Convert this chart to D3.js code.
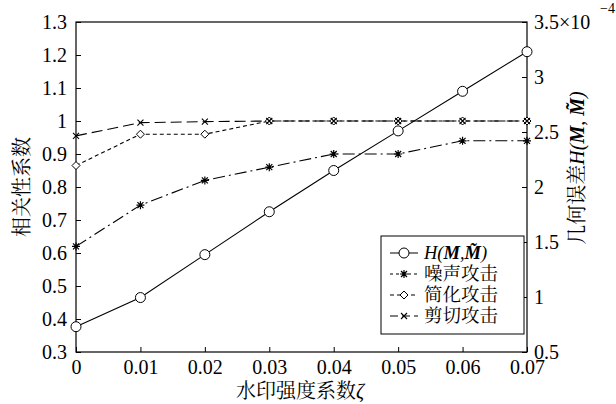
<!DOCTYPE html>
<html><head><meta charset="utf-8">
<script src="https://cdn.jsdelivr.net/npm/d3@7"></script>
<style>body{margin:0;background:#fff}svg{display:block}</style>
</head><body>
<svg id="c" width="616" height="404"></svg>
<script>
const xVals = [0, 0.01, 0.02, 0.03, 0.04, 0.05, 0.06, 0.07];
const xTicks = [0, 0.01, 0.02, 0.03, 0.04, 0.05, 0.06, 0.07];
const hausdorff = [0.73, 0.995, 1.385, 1.775, 2.15, 2.51, 2.87, 3.23]; // x1e-4, right axis
const noiseCorr = [0.62, 0.745, 0.82, 0.86, 0.90, 0.90, 0.94, 0.94];
const simplifyCorr = [0.865, 0.96, 0.96, 1.0, 1.0, 1.0, 1.0, 1.0];
const cropCorr = [0.955, 0.995, 0.998, 1.0, 1.0, 1.0, 1.0, 1.0];
const leftTicks = [0.3,0.4,0.5,0.6,0.7,0.8,0.9,1,1.1,1.2,1.3];
const rightTicks = [0.5,1,1.5,2,2.5,3,3.5];

const FONT = '"Liberation Serif", "Noto Serif CJK SC"';
const svg = d3.select("#c");
const L=76, R=527, T=22, B=352;
const x = d3.scaleLinear().domain([0,0.07]).range([L,R]);
const yL = d3.scaleLinear().domain([0.3,1.3]).range([B,T]);
const yR = d3.scaleLinear().domain([0.5,3.5]).range([B,T]);
const fs = 20, cfs = 20;

// frame
svg.append("rect").attr("x",L).attr("y",T).attr("width",R-L).attr("height",B-T).attr("fill","none").attr("stroke","#000").attr("stroke-width",1.2);

// axes
const fmt = d => d===0?"0":String(+d.toFixed(2));
const ax = svg.append("g").attr("transform",`translate(0,${B})`).call(d3.axisBottom(x).tickValues(xTicks).tickSize(-5).tickPadding(8).tickFormat(fmt));
const al = svg.append("g").attr("transform",`translate(${L},0)`).call(d3.axisLeft(yL).tickValues(leftTicks).tickSize(-5).tickPadding(9).tickFormat(d=>String(d)));
const ar = svg.append("g").attr("transform",`translate(${R},0)`).call(d3.axisRight(yR).tickValues(rightTicks).tickSize(-5).tickPadding(7).tickFormat(d=>d===3.5?"3.5×10":String(d)));
[ax,al,ar].forEach(g=>{g.attr("font-family",null).attr("font-size",null);g.select(".domain").remove();g.selectAll("line").attr("stroke","#000");g.selectAll("text").style("font-family",FONT).attr("font-size",fs).attr("fill","#000");});
ar.append("text").attr("x",73).attr("y",T-9).attr("font-size",14).attr("fill","#000").style("font-family",FONT).attr("text-anchor","start").text("−4");

// lines
const lineL = d3.line().x((d,i)=>x(xVals[i])).y(d=>yL(d));
const lineR = d3.line().x((d,i)=>x(xVals[i])).y(d=>yR(d));
const g = svg.append("g");
g.append("path").attr("d",lineR(hausdorff)).attr("fill","none").attr("stroke","#000").attr("stroke-width",1.1);
g.append("path").attr("d",lineL(noiseCorr)).attr("fill","none").attr("stroke","#000").attr("stroke-width",1.1).attr("stroke-dasharray","12,4,2,4");
g.append("path").attr("d",lineL(simplifyCorr)).attr("fill","none").attr("stroke","#000").attr("stroke-width",1.1).attr("stroke-dasharray","4,3");
g.append("path").attr("d",lineL(cropCorr)).attr("fill","none").attr("stroke","#000").attr("stroke-width",1.1).attr("stroke-dasharray","11,5");

function circle(sel,cx,cy){sel.append("circle").attr("cx",cx).attr("cy",cy).attr("r",5).attr("fill","#fff").attr("stroke","#000").attr("stroke-width",1);}
function diamond(sel,cx,cy){sel.append("path").attr("d",`M${cx},${cy-4}L${cx+4},${cy}L${cx},${cy+4}L${cx-4},${cy}Z`).attr("fill","#fff").attr("stroke","#000").attr("stroke-width",1);}
function cross(sel,cx,cy){sel.append("path").attr("d",`M${cx-3},${cy-3}L${cx+3},${cy+3}M${cx-3},${cy+3}L${cx+3},${cy-3}`).attr("stroke","#000").attr("stroke-width",1.1);}
function star(sel,cx,cy){sel.append("path").attr("d",`M${cx-3},${cy-3}L${cx+3},${cy+3}M${cx-3},${cy+3}L${cx+3},${cy-3}M${cx-4},${cy}L${cx+4},${cy}M${cx},${cy-4}L${cx},${cy+4}`).attr("stroke","#000").attr("stroke-width",1.2);}

hausdorff.forEach((d,i)=>circle(g,x(xVals[i]),yR(d)));
noiseCorr.forEach((d,i)=>star(g,x(xVals[i]),yL(d)));
simplifyCorr.forEach((d,i)=>diamond(g,x(xVals[i]),yL(d)));
cropCorr.forEach((d,i)=>cross(g,x(xVals[i]),yL(d)));

// titles
svg.append("text").attr("x",300).attr("y",398).attr("text-anchor","middle").attr("font-size",cfs).style("font-family",FONT)
  .call(t=>{t.append("tspan").text("水印强度系数");t.append("tspan").attr("font-style","italic").text("ζ");});
svg.append("text").attr("transform",`translate(29,${(T+B)/2}) rotate(-90)`).attr("text-anchor","middle").attr("font-size",cfs).style("font-family",FONT).text("相关性系数");
svg.append("text").attr("transform",`translate(584,168) rotate(-90)`).attr("text-anchor","middle").attr("font-size",fs).style("font-family",FONT)
  .call(t=>{t.append("tspan").text("几何误差");
    t.append("tspan").attr("font-style","italic").text("H(");
    t.append("tspan").attr("font-style","italic").attr("font-weight","bold").text("M");
    t.append("tspan").attr("font-style","italic").text(", ");
    t.append("tspan").attr("font-style","italic").attr("font-weight","bold").text("M\u0303");
    t.append("tspan").attr("font-style","italic").text(")");});

// legend
const lg = svg.append("g");
lg.append("rect").attr("x",381).attr("y",236).attr("width",143).attr("height",98).attr("fill","#fff").attr("stroke","#000").attr("stroke-width",1);
const rows = [
  {y:253, dash:null, m:circle},
  {y:274, dash:"3,3", m:star},
  {y:295, dash:"4,3", m:diamond},
  {y:316, dash:"8,4", m:cross}
];
const labels = [null,"噪声攻击","简化攻击","剪切攻击"];
rows.forEach((r,i)=>{
  const ln = lg.append("line").attr("x1",390).attr("x2",418).attr("y1",r.y).attr("y2",r.y).attr("stroke","#000").attr("stroke-width",1);
  if(r.dash) ln.attr("stroke-dasharray",r.dash);
  r.m(lg,404,r.y);
  const t = lg.append("text").attr("x",424).attr("y",r.y+6).attr("font-size",18.5).style("font-family",FONT);
  if(i===0){
    t.append("tspan").attr("font-style","italic").text("H(");
    t.append("tspan").attr("font-style","italic").attr("font-weight","bold").text("M");
    t.append("tspan").attr("font-style","italic").text(",");
    t.append("tspan").attr("font-style","italic").attr("font-weight","bold").text("M\u0303");
    t.append("tspan").attr("font-style","italic").text(")");
  } else t.text(labels[i]);
});
</script>
</body></html>
